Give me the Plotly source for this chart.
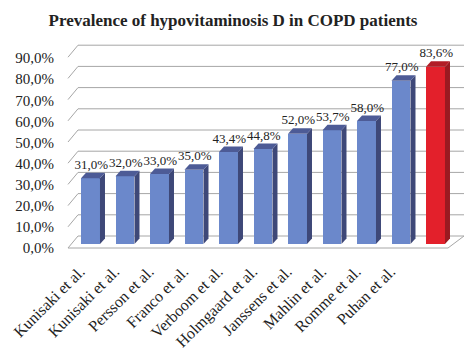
import plotly.graph_objects as go

# ---- data ----
categories = ["Kunisaki et al.", "Kunisaki et al.", "Persson et al.", "Franco et al.",
              "Verboom et al.", "Holmgaard et al.", "Janssens et al.", "Mahlin et al.",
              "Romme et al.", "Puhan et al.", ""]
values = [31.0, 32.0, 33.0, 35.0, 43.4, 44.8, 52.0, 53.7, 58.0, 77.0, 83.6]
value_labels = ["31,0%", "32,0%", "33,0%", "35,0%", "43,4%", "44,8%", "52,0%",
                "53,7%", "58,0%", "77,0%", "83,6%"]
y_ticks = [0, 10, 20, 30, 40, 50, 60, 70, 80, 90]
y_ticktext = ["0,0%", "10,0%", "20,0%", "30,0%", "40,0%", "50,0%", "60,0%",
              "70,0%", "80,0%", "90,0%"]
title = "Prevalence of hypovitaminosis D in COPD patients"

# ---- style ----
W, H = 476, 356
FONT = "Liberation Serif, Times New Roman, serif"
BLUE = dict(front="#6B88CB", side="#3E4878", top="#4D5B96")
RED = dict(front="#E3202B", side="#9A1A21", top="#B21D26")
GRID = "#A6A6A6"
TXT = "#222222"

# pixel geometry of the main axes
PX0, PXS = 90.5, 34.5     # x pixel of first category, pixels per category
PY0, PYS = 244.0, 2.12    # y pixel of value 0 (bar base), pixels per percent
x_range = [(0 - PX0) / PXS, (W - PX0) / PXS]
y_range = [(PY0 - H) / PYS, PY0 / PYS]

BW = 0.55                 # bar front width (category units)
BDX, BDY = 5 / PXS, 5.5 / PYS   # bar depth
FRONT_OFF = -4 / PYS      # front wall offset (values)
BACK_OFF = 8 / PYS        # back wall offset (values)
WALL_FL = (68 - PX0) / PXS
WALL_BL = (78 - PX0) / PXS
FLOOR_FR = (448 - PX0) / PXS
WALL_BR = (464 - PX0) / PXS

idx = list(range(len(values)))
colors = [RED if i == len(values) - 1 else BLUE for i in idx]

fig = go.Figure()

# front faces
fig.add_trace(go.Bar(x=idx, y=values, width=BW,
                     marker=dict(color=[c["front"] for c in colors], line=dict(width=0)),
                     hoverinfo="skip", showlegend=False))

# side and top faces derived from the data
for i, v in zip(idx, values):
    c = colors[i]
    xr = i + BW / 2
    xl = i - BW / 2
    fig.add_trace(go.Scatter(
        x=[xr, xr + BDX, xr + BDX, xr, xr], y=[0, BDY, v + BDY, v, 0],
        fill="toself", fillcolor=c["side"], line=dict(width=0), mode="lines",
        hoverinfo="skip", showlegend=False))
    fig.add_trace(go.Scatter(
        x=[xl, xr, xr + BDX, xl + BDX, xl], y=[v, v, v + BDY, v + BDY, v],
        fill="toself", fillcolor=c["top"], line=dict(width=0), mode="lines",
        hoverinfo="skip", showlegend=False))

# value labels
fig.add_trace(go.Scatter(
    x=[i + 0.02 for i in idx], y=[v + 6.0 for v in values], mode="text",
    text=value_labels, textposition="middle center",
    textfont=dict(family=FONT, size=13, color=TXT),
    hoverinfo="skip", showlegend=False))

# gridlines on back wall and left wall
shapes = []
for t in y_ticks:
    shapes.append(dict(type="line", xref="x", yref="y", layer="below",
                       x0=WALL_BL, x1=WALL_BR, y0=t + BACK_OFF, y1=t + BACK_OFF,
                       line=dict(color=GRID, width=1)))
    shapes.append(dict(type="line", xref="x", yref="y", layer="below",
                       x0=WALL_FL, x1=WALL_BL, y0=t + FRONT_OFF, y1=t + BACK_OFF,
                       line=dict(color=GRID, width=1)))
# floor front and right edges
shapes.append(dict(type="path", xref="x", yref="y", layer="below",
                   path=f"M {WALL_FL} {FRONT_OFF} L {FLOOR_FR} {FRONT_OFF} L {WALL_BR} {BACK_OFF}",
                   line=dict(color=GRID, width=1)))

fig.update_layout(
    width=W, height=H,
    margin=dict(l=0, r=0, t=0, b=0),
    paper_bgcolor="white", plot_bgcolor="rgba(0,0,0,0)",
    shapes=shapes,
    bargap=0,
    title=dict(text=f"<b>{title}</b>", x=233 / W, xanchor="center",
               y=1 - 20 / H, yanchor="middle",
               font=dict(family=FONT, size=17, color=TXT)),
    xaxis=dict(range=x_range, domain=[0, 1], showgrid=False, zeroline=False,
               showline=False, ticks="", tickmode="array",
               tickvals=[i - 0.3 for i in idx[:-1]], ticktext=categories[:-1],
               tickangle=-45, anchor="free", position=1 - 258 / H,
               tickfont=dict(family=FONT, size=16, color=TXT)),
    yaxis=dict(range=y_range, domain=[0, 1], showgrid=False, zeroline=False,
               showline=False, showticklabels=False, ticks=""),
    yaxis2=dict(range=[(248 - H) / 2.11, 248 / 2.11], domain=[0, 1],
                overlaying="y", anchor="free", position=54 / W, side="left",
                showgrid=False, zeroline=False, showline=False, ticks="",
                tickmode="array", tickvals=y_ticks, ticktext=y_ticktext,
                tickfont=dict(family=FONT, size=15, color=TXT)),
)
# invisible trace to activate yaxis2
fig.add_trace(go.Scatter(x=[0], y=[0], yaxis="y2", mode="markers",
                         marker=dict(opacity=0), hoverinfo="skip", showlegend=False))

fig.write_html("out.html",
               config={"displayModeBar": False},
               post_script="document.body.style.margin='0';document.body.style.overflow='hidden';")
